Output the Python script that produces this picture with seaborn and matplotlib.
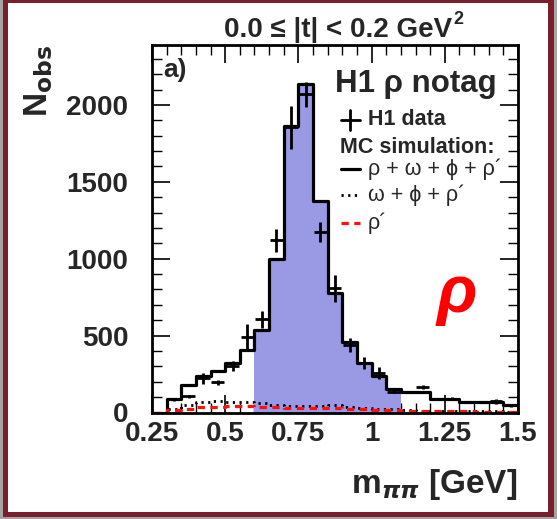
import numpy as np
import pandas as pd
import seaborn as sns
import matplotlib
matplotlib.use("Agg")
import matplotlib.pyplot as plt
from matplotlib.patches import Rectangle
from matplotlib.lines import Line2D
from matplotlib.ticker import MultipleLocator

# ---------------- data ----------------
bin_edges = [round(0.25 + 0.05 * i, 3) for i in range(26)]
bin_centers = [round(e + 0.025, 3) for e in bin_edges[:-1]]

mc_total = [0, 90, 182, 240, 270, 325, 406, 536, 1000, 1863, 2138, 1373, 775,
            460, 320, 235, 150, 135, 135, 88, 88, 66, 66, 66, 48]
mc_omega_phi_rhop = [0, 25, 50, 70, 72, 70, 68, 62, 50, 45, 42, 40, 52,
                     35, 30, 25, 20, 15, 12, 10, 10, 8, 8, 8, 6]
mc_rhoprime = [0, 16, 23, 34, 38, 42, 42, 36, 35, 32, 30, 28, 27,
               25, 22, 18, 16, 12, 10, 9, 8, 7, 6, 5, 5]

data_x = [0.325, 0.375, 0.425, 0.475, 0.525, 0.575, 0.625, 0.675, 0.725, 0.775,
          0.825, 0.875, 0.925, 0.975, 1.025, 1.075, 1.125, 1.175, 1.225, 1.275,
          1.325, 1.375, 1.425, 1.475]
data_n = [85, 107, 222, 196, 302, 490, 605, 1121, 1854, 2070, 1176, 807, 439,
          320, 259, 135, 135, 165, 90, 90, 68, 68, 72, 46]
data_err = [8, 10, 38, 15, 33, 87, 54, 75, 140, 80, 65, 87, 43, 38, 38, 10, 8,
            12, 6, 10, 5, 5, 15, 8]

signal_lo, signal_hi = 0.6, 1.1
xtick_vals = [0.25, 0.5, 0.75, 1.0, 1.25, 1.5]
xtick_labels = ["0.25", "0.5", "0.75", "1", "1.25", "1.5"]

df = pd.DataFrame({"m": bin_centers, "total": mc_total,
                   "bkg": mc_omega_phi_rhop, "rhop": mc_rhoprime})
sig = df[(df.m > signal_lo) & (df.m < signal_hi)]
sig_edges = [e for e in bin_edges if signal_lo - 1e-9 <= e <= signal_hi + 1e-9]

# ---------------- style ----------------
sns.set_style("ticks")
plt.rcParams["font.family"] = ["Liberation Sans", "DejaVu Sans"]
plt.rcParams["font.weight"] = "bold"
plt.rcParams["mathtext.fontset"] = "dejavusans"

W, H = 557, 519
fig = plt.figure(figsize=(W / 100, H / 100), dpi=100)
fig.patch.set_facecolor("#a4a4a4")
fig.add_artist(Rectangle((3 / W, 2 / H), 551 / W, 517 / H, transform=fig.transFigure,
                         facecolor="#7b1e2b", edgecolor="none", zorder=-10))
fig.add_artist(Rectangle((8 / W, 7 / H), 540 / W, 509 / H, transform=fig.transFigure,
                         facecolor="white", edgecolor="none", zorder=-9))

ax = fig.add_axes([152 / W, (H - 412.5) / H, 366 / W, 367.5 / H])
ax.set_facecolor("none")

dot_style = (0, (0.8, 1.6))
dash_style = (0, (2.3, 1.7))

# signal fill
sns.histplot(data=sig, x="m", weights="total", bins=sig_edges, element="step",
             fill=True, color="#9a9ae4", alpha=1.0, linewidth=0, ax=ax, zorder=1)
# total MC outline
sns.histplot(data=df, x="m", weights="total", bins=bin_edges, element="step",
             fill=False, color="black", linewidth=2.3, ax=ax, zorder=3)
# omega + phi + rho'
sns.histplot(data=df, x="m", weights="bkg", bins=bin_edges, element="step",
             fill=False, color="black", linewidth=2.0, linestyle=dot_style,
             ax=ax, zorder=3)
# rho'
sns.histplot(data=df, x="m", weights="rhop", bins=bin_edges, element="step",
             fill=False, color="#ff1010", linewidth=2.3, linestyle=dash_style,
             ax=ax, zorder=4)
# data
ax.errorbar(data_x, data_n, yerr=data_err, xerr=0.022, fmt="none", ecolor="black",
            elinewidth=2.0, capsize=0, zorder=5)

ax.set_xlim(0.25, 1.5)
ax.set_ylim(0, 2390)
ax.set_xlabel("")
ax.set_ylabel("")
ax.set_xticks(xtick_vals, xtick_labels)
ax.xaxis.set_minor_locator(MultipleLocator(0.05))
ax.yaxis.set_major_locator(MultipleLocator(500))
ax.yaxis.set_minor_locator(MultipleLocator(100))
ax.tick_params(which="both", direction="in", top=True, right=True, color="black")
ax.tick_params(which="major", length=13, width=1.2, labelsize=20)
ax.tick_params(which="minor", length=7, width=1.0)
ax.tick_params(axis="x", which="major", pad=6)
ax.tick_params(axis="y", which="major", pad=17)
for lab in ax.get_xticklabels() + ax.get_yticklabels():
    lab.set_fontweight("bold")
for sp in ax.spines.values():
    sp.set_linewidth(2.0)
    sp.set_color("black")
    sp.set_visible(True)
    sp.set_zorder(10)

# texts
fig.text(338 / W, 1 - 37 / H, "0.0 ≤ |t| < 0.2 GeV", ha="center",
         va="baseline", fontsize=20, fontweight="bold")
fig.text(453 / W, 1 - 24 / H, "2", ha="left", va="baseline", fontsize=13,
         fontweight="bold")
ax.text(0.03, 0.932, "a)", transform=ax.transAxes, fontsize=19, fontweight="bold",
        ha="left", va="center")
ax.text(0.5, 0.894, "H1 ρ notag", transform=ax.transAxes, fontsize=22.5,
        fontweight="bold", ha="left", va="center")

leg_x_text = 0.59
ax.text(leg_x_text, 0.796, "H1 data", transform=ax.transAxes, fontsize=15.5,
        fontweight="bold", ha="left", va="center")
ax.text(0.514, 0.722, "MC simulation:", transform=ax.transAxes, fontsize=15.5,
        fontweight="bold", ha="left", va="center")
ax.text(leg_x_text, 0.663, "ρ + ω + ϕ + ρ´", transform=ax.transAxes, fontsize=15.5,
        fontweight="normal", ha="left", va="center")
ax.text(leg_x_text, 0.592, "ω + ϕ + ρ´", transform=ax.transAxes, fontsize=15.5,
        fontweight="normal", ha="left", va="center")
ax.text(leg_x_text, 0.516, "ρ´", transform=ax.transAxes, fontsize=15.5,
        fontweight="normal", ha="left", va="center")

# legend keys
keys = [
    Line2D([0.517, 0.567], [0.796, 0.796], color="black", lw=2.0),
    Line2D([0.542, 0.542], [0.770, 0.822], color="black", lw=2.0),
    Line2D([0.517, 0.567], [0.663, 0.663], color="black", lw=2.3),
    Line2D([0.517, 0.567], [0.592, 0.592], color="black", lw=2.0, linestyle=dot_style),
    Line2D([0.517, 0.567], [0.516, 0.516], color="#ff1010", lw=2.3, linestyle=dash_style),
]
for k in keys:
    k.set_transform(ax.transAxes)
    k.set_clip_on(False)
    ax.add_line(k)

ax.text(0.833, 0.32, "ρ", transform=ax.transAxes, fontsize=48, color="#ff0000",
        fontweight="bold", style="italic", ha="center", va="center")

fig.text(22 / W, 1 - 45 / H, r"N$_{\mathbf{obs}}$", rotation=90, ha="left", va="top",
         fontsize=24, fontweight="bold")
fig.text(517 / W, 1 - 493 / H, r"m$_{\pi\pi}$ [GeV]", ha="right", va="baseline",
         fontsize=24, fontweight="bold")

fig.savefig("out.png", dpi=100, facecolor=fig.get_facecolor())
